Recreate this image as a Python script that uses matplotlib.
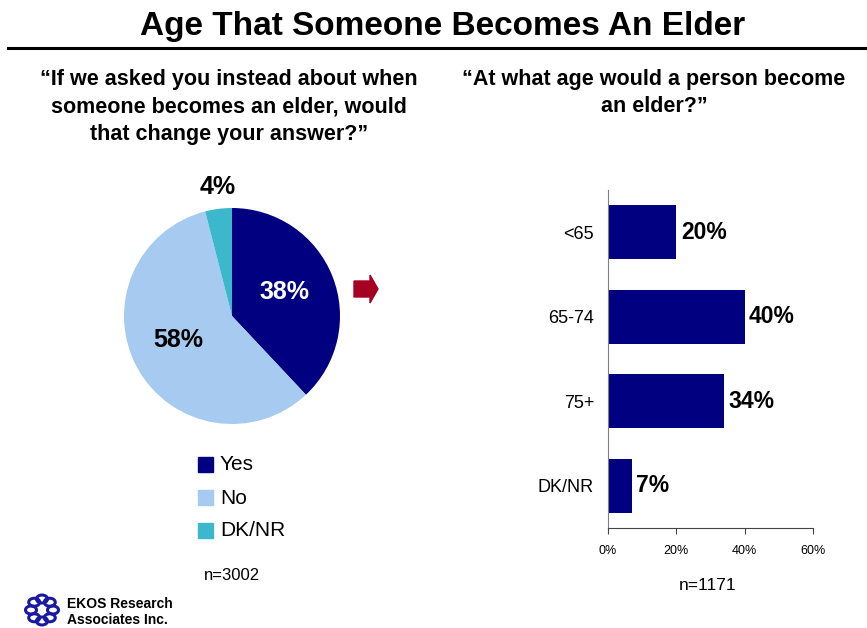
import matplotlib
matplotlib.use("Agg")
import matplotlib.pyplot as plt
from matplotlib.patches import Rectangle, Polygon, Circle
import numpy as np

plt.rcParams['font.family'] = ['Liberation Sans', 'DejaVu Sans']

# Data
pie_labels = ["Yes", "No", "DK/NR"]
pie_values = [38, 58, 4]
pie_colors = ["#000080", "#A6CAF0", "#3CB8CC"]

bar_categories = ["<65", "65-74", "75+", "DK/NR"]
bar_values = [20, 40, 34, 7]
bar_color = "#000080"
xticks = [0, 20, 40, 60]
xtick_labels = ["0%", "20%", "40%", "60%"]

left_question = ["\u201cIf we asked you instead about when",
                 "someone becomes an elder, would",
                 "that change your answer?\u201d"]
right_question = ["\u201cAt what age would a person become",
                  "an elder?\u201d"]

W, H = 867, 628
fig = plt.figure(figsize=(W / 100, H / 100), dpi=100)
fig.patch.set_facecolor("white")

def fx(x):
    return x / W

def fy(y):
    return 1 - y / H

# Title
fig.text(fx(443), fy(26), "Age That Someone Becomes An Elder", ha="center", va="center",
         fontsize=24, fontweight="bold")
fig.add_artist(plt.Line2D([fx(8), fx(867)], [fy(48), fy(48)], color="black", lw=2.2))

# Subtitles
for i, line in enumerate(left_question):
    fig.text(fx(229), fy(79 + i * 27.5), line, ha="center", va="center",
             fontsize=15.5, fontweight="bold")
for i, line in enumerate(right_question):
    fig.text(fx(654), fy(79 + i * 27.5), line, ha="center", va="center",
             fontsize=15.5, fontweight="bold")

# Pie
cx, cy, r = 232, 316, 108
pax = fig.add_axes([fx(cx - r), fy(cy + r), fx(2 * r), (2 * r) / H])
pax.pie(pie_values, colors=pie_colors, startangle=90, counterclock=False,
        wedgeprops=dict(linewidth=0))
pax.set_aspect("equal")
pax.set_xlim(-1, 1)
pax.set_ylim(-1, 1)
pax.axis("off")
pax.text(0.49, 0.22, f"{pie_values[0]}%", ha="center", va="center", color="white",
         fontsize=18, fontweight="bold")
pax.text(-0.50, -0.22, f"{pie_values[1]}%", ha="center", va="center", color="black",
         fontsize=18, fontweight="bold")
fig.text(fx(218), fy(187), f"{pie_values[2]}%", ha="center", va="center", color="black",
         fontsize=18, fontweight="bold")

# Legend
for i, (lab, col) in enumerate(zip(pie_labels, pie_colors)):
    y = 465 + i * 33
    fig.add_artist(Rectangle((fx(198), fy(y + 7)), fx(15), 15 / H, color=col,
                             transform=fig.transFigure))
    fig.text(fx(220), fy(y), lab, ha="left", va="center", fontsize=15)
fig.text(fx(232), fy(575), "n=3002", ha="center", va="center", fontsize=12)

# Arrow
arrow_pts = [(354, 281), (370, 281), (370, 275), (378, 289), (370, 303), (370, 297), (354, 297)]
fig.add_artist(Polygon([(fx(x), fy(y)) for x, y in arrow_pts], closed=True,
                       color="#A50021", transform=fig.transFigure))

# Bar chart
bx0, bx1, by0, by1 = 608, 813, 190, 528
bax = fig.add_axes([fx(bx0), fy(by1), fx(bx1 - bx0), (by1 - by0) / H])
ypos = np.arange(len(bar_categories))
bax.barh(ypos, bar_values, height=0.64, color=bar_color)
bax.set_ylim(len(bar_categories) - 0.5, -0.5)
bax.set_xlim(0, 60)
bax.set_yticks(ypos)
bax.set_yticklabels(bar_categories, fontsize=13)
bax.tick_params(axis="y", length=0, pad=10)
bax.set_xticks(xticks)
bax.set_xticklabels(xtick_labels, fontsize=9)
bax.tick_params(axis="x", length=4, direction="out", color="#444444", pad=8)
for s in ["top", "right"]:
    bax.spines[s].set_visible(False)
bax.spines["left"].set_color("#808080")
bax.spines["bottom"].set_color("#444444")
for y, v in zip(ypos, bar_values):
    bax.text(v + 1.3, y, f"{v}%", ha="left", va="center", fontsize=16.5, fontweight="bold")
fig.text(fx(708), fy(585), "n=1171", ha="center", va="center", fontsize=12.5)

# Logo (approximation)
lx, ly = 42, 610
for k in range(8):
    a = 2 * np.pi * k / 8
    fig.add_artist(Circle((fx(lx + 11 * np.cos(a)), fy(ly + 11 * np.sin(a))), 5.5 / W,
                          facecolor="none", edgecolor="#1a1aa0", lw=2.2,
                          transform=fig.transFigure))
fig.text(fx(67), fy(604), "EKOS Research", ha="left", va="center", fontsize=10, fontweight="bold")
fig.text(fx(67), fy(620), "Associates Inc.", ha="left", va="center", fontsize=10, fontweight="bold")

fig.savefig("out.png", dpi=100)
